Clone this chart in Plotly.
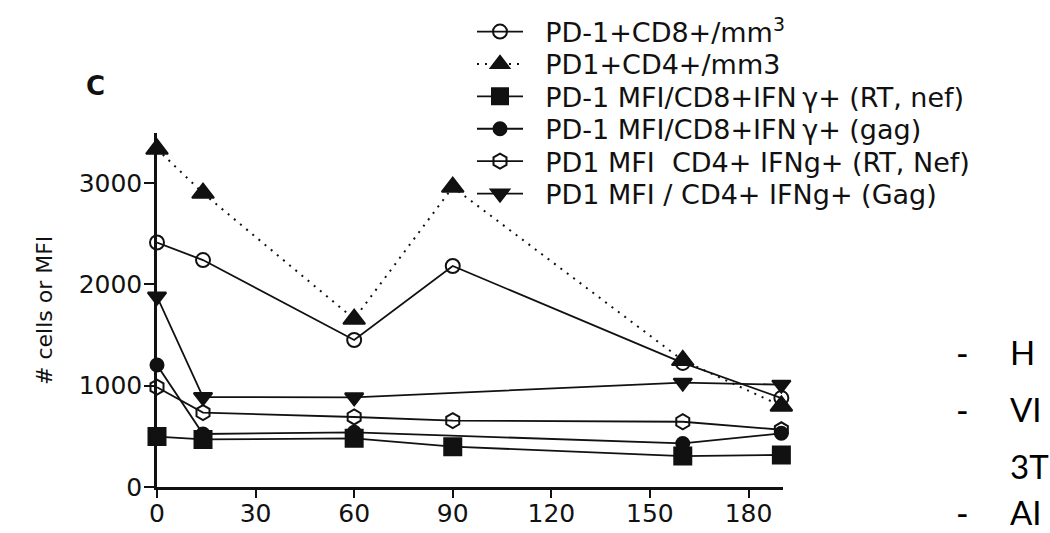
import plotly.graph_objects as go

# ---------------- data ----------------
days = [0, 14, 60, 90, 160, 190]
days_gag = [0, 14, 60, 160, 190]

pd1_cd8_mm3 = [2413, 2240, 1451, 2181, 1225, 878]
pd1_cd4_mm3 = [3336, 2901, 1658, 2960, 1250, 800]
mfi_cd8_rtnef = [498, 470, 480, 398, 305, 316]
mfi_cd8_gag = [1204, 523, 540, 430, 530]
mfi_cd4_rtnef = [985, 735, 691, 656, 644, 565]
mfi_cd4_gag = [1880, 888, 885, 1030, 1010]

series_names = [
    "PD-1+CD8+/mm<sup>3</sup>",
    "PD1+CD4+/mm3",
    "PD-1 MFI/CD8+IFN\u2009\u03b3+ (RT, nef)",
    "PD-1 MFI/CD8+IFN\u2009\u03b3+ (gag)",
    "PD1 MFI  CD4+ IFNg+ (RT, Nef)",
    "PD1 MFI / CD4+ IFNg+ (Gag)",
]

x_ticks = [0, 30, 60, 90, 120, 150, 180]
y_ticks = [0, 1000, 2000, 3000]
y_title = "# cells or MFI"
panel_label = "C"
side_rows = [("-", "H"), ("-", "VI"), ("", "3T"), ("-", "AI")]

# ---------------- layout geometry (pixels) ----------------
W, H = 1050, 533
L, R, T, B = 157, 783, 133, 487


def px_x(p):
    return (p - L) / (R - L)


def px_y(p):
    return (B - p) / (B - T)


INK = "#111111"
FONT = "DejaVu Sans"

fig = go.Figure()

styles = [
    dict(x=days, y=pd1_cd8_mm3, symbol="circle-open", size=14, dash="solid"),
    dict(x=days, y=pd1_cd4_mm3, symbol="triangle-up", size=19, dash="2px,6px"),
    dict(x=days, y=mfi_cd8_rtnef, symbol="square", size=17, dash="solid"),
    dict(x=days_gag, y=mfi_cd8_gag, symbol="circle", size=13, dash="solid"),
    dict(x=days, y=mfi_cd4_rtnef, symbol="hexagon-open", size=15, dash="solid"),
    dict(x=days_gag, y=mfi_cd4_gag, symbol="triangle-down", size=16, dash="solid"),
]

legend_rows_px = [32, 64.4, 96.8, 129.2, 161.6, 194]

for i, (name, st) in enumerate(zip(series_names, styles)):
    lg = "legend" if i == 0 else f"legend{i + 1}"
    fig.add_trace(go.Scatter(
        x=st["x"], y=st["y"], mode="lines+markers",
        name="\u00a0\u00a0" + name,
        legend=lg,
        cliponaxis=False,
        line=dict(color=INK, width=2 if st["dash"] != "solid" else 1.8, dash=st["dash"]),
        marker=dict(symbol=st["symbol"], size=st["size"], color=INK,
                    line=dict(color=INK, width=2)),
    ))

legend_layouts = {}
for i, ypx in enumerate(legend_rows_px):
    key = "legend" if i == 0 else f"legend{i + 1}"
    legend_layouts[key] = dict(
        x=px_x(472), y=px_y(ypx), xanchor="left", yanchor="middle",
        bgcolor="rgba(0,0,0,0)", borderwidth=0, itemwidth=46,
        font=dict(family=FONT, size=27, color=INK),
    )

annotations = [
    dict(text=panel_label, x=px_x(95), y=px_y(86), xref="paper", yref="paper",
         xanchor="center", yanchor="middle", showarrow=False,
         font=dict(family=FONT, size=26, color=INK, weight="bold")),
    dict(text=y_title, x=px_x(44), y=px_y(310), xref="paper", yref="paper",
         xanchor="center", yanchor="middle", showarrow=False, textangle=-90,
         font=dict(family=FONT, size=22, color=INK)),
]

side_y_px = [352, 409, 466, 512]
for (dash_txt, word), ypx in zip(side_rows, side_y_px):
    if dash_txt:
        annotations.append(dict(
            text=dash_txt, x=px_x(962), y=px_y(ypx), xref="paper", yref="paper",
            xanchor="center", yanchor="middle", showarrow=False,
            font=dict(family="Lato", size=34, color="#000000")))
    annotations.append(dict(
        text=word, x=px_x(1008), y=px_y(ypx), xref="paper", yref="paper",
        xanchor="left", yanchor="middle", showarrow=False,
        font=dict(family="Lato", size=33, color="#000000")))

axis_common = dict(
    showgrid=False, zeroline=False, showline=True, linecolor=INK, linewidth=2.5,
    ticks="outside", tickcolor=INK, tickwidth=2, automargin=False,
    tickfont=dict(family=FONT, size=25, color=INK),
)

fig.update_layout(
    width=W, height=H,
    margin=dict(l=L, r=W - R, t=T, b=H - B, pad=0, autoexpand=False),
    paper_bgcolor="white", plot_bgcolor="white",
    showlegend=True,
    xaxis=dict(range=[0, 190.5], tickvals=x_ticks, ticklen=8,
               ticklabelstandoff=-6, **axis_common),
    yaxis=dict(range=[0, 3494], tickvals=y_ticks, ticklen=10,
               ticklabelstandoff=-3, **axis_common),
    annotations=annotations,
    **legend_layouts,
)

fig.write_html("out.html", config={"displayModeBar": False})
